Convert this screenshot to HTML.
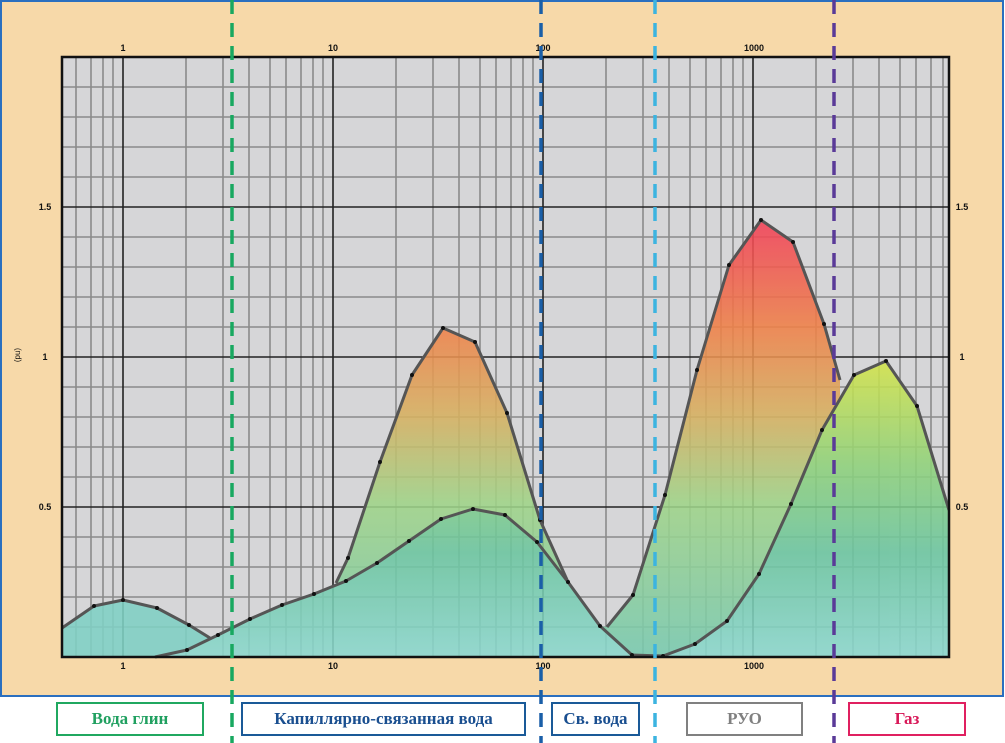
<!DOCTYPE html>
<html><head><meta charset="utf-8"><style>
html,body{margin:0;padding:0;background:#fff;}
body{width:1005px;height:743px;position:relative;overflow:hidden;font-family:"Liberation Serif",serif;}
.box{position:absolute;top:702px;border:2px solid;background:#fff;font-weight:bold;font-size:17px;display:flex;align-items:center;justify-content:center;box-sizing:border-box;height:34px;}
</style></head><body>
<svg width="1005" height="743" style="position:absolute;left:0;top:0" font-family="Liberation Sans, sans-serif">
<defs>
<linearGradient id="rg" gradientUnits="userSpaceOnUse" x1="0" y1="215" x2="0" y2="657">
<stop offset="0" stop-color="#f23c58"/><stop offset="0.25" stop-color="#f08048"/><stop offset="0.45" stop-color="#d8b060"/><stop offset="0.65" stop-color="#a0d488"/><stop offset="1" stop-color="#78cab0"/>
</linearGradient>
<linearGradient id="gg" gradientUnits="userSpaceOnUse" x1="0" y1="360" x2="0" y2="657">
<stop offset="0" stop-color="#d4e448"/><stop offset="0.35" stop-color="#90d27a"/><stop offset="0.65" stop-color="#6cc6a0"/><stop offset="1" stop-color="#8cd8ce"/>
</linearGradient>
</defs>
<rect x="1" y="1" width="1002" height="695" fill="#f7d9a9" stroke="#2a6fbf" stroke-width="2"/>
<rect x="62" y="57" width="887" height="600" fill="#d6d6d8"/>
<g stroke="#8a8a8a" stroke-width="1.6">
<path d="M76 57V657M91 57V657M103 57V657M113 57V657M186 57V657M223 57V657M249 57V657M270 57V657M286 57V657M301 57V657M313 57V657M323 57V657M396 57V657M433 57V657M459 57V657M480 57V657M496 57V657M511 57V657M523 57V657M533 57V657M606 57V657M643 57V657M669 57V657M690 57V657M706 57V657M721 57V657M733 57V657M743 57V657M816 57V657M853 57V657M879 57V657M900 57V657M916 57V657M931 57V657M943 57V657"/>
<path d="M62 87H949M62 117H949M62 147H949M62 177H949M62 237H949M62 267H949M62 297H949M62 327H949M62 387H949M62 417H949M62 447H949M62 477H949M62 537H949M62 567H949M62 597H949M62 627H949"/>
</g>
<g stroke="#222" stroke-width="1.6">
<path d="M123 57V657M333 57V657M543 57V657M753 57V657M62 207H949M62 357H949M62 507H949"/>
</g>
<g opacity="0.88">
<polygon fill="url(#rg)" points="336,583 348,558 380,462 412,375 443,328 475,342 507,413 540,520 568,582 600,626 607,627 633,595 665,495 697,370 729,265 761,220 793,242 824,324 840,380 840,657 336,657"/>
<polygon fill="#80d0c4" points="62,628 94,606 123,600 157,608 189,625 210,638 218,635 218,657 62,657"/>
<polygon fill="url(#gg)" points="155,657 187,650 218,635 250,619 282,605 314,594 346,581 377,563 409,541 441,519 473,509 505,515 537,542 568,582 600,626 632,655 663,656 695,644 727,621 759,574 791,504 822,430 854,375 886,361 917,406 949,510 949,657"/>
</g>
<g fill="none" stroke="#555" stroke-width="3" stroke-linejoin="round">
<polyline points="62,628 94,606 123,600 157,608 189,625 210,638"/>
<polyline points="336,583 348,558 380,462 412,375 443,328 475,342 507,413 540,520 568,582"/>
<polyline points="607,627 633,595 665,495 697,370 729,265 761,220 793,242 824,324 840,380"/>
<polyline points="155,657 187,650 218,635 250,619 282,605 314,594 346,581 377,563 409,541 441,519 473,509 505,515 537,542 568,582 600,626 632,655 663,656 695,644 727,621 759,574 791,504 822,430 854,375 886,361 917,406 949,510"/>
</g>
<g fill="#111">
<circle cx="94" cy="606" r="2"/><circle cx="123" cy="600" r="2"/><circle cx="157" cy="608" r="2"/><circle cx="189" cy="625" r="2"/>
<circle cx="348" cy="558" r="2"/><circle cx="380" cy="462" r="2"/><circle cx="412" cy="375" r="2"/><circle cx="443" cy="328" r="2"/><circle cx="475" cy="342" r="2"/><circle cx="507" cy="413" r="2"/><circle cx="540" cy="520" r="2"/>
<circle cx="633" cy="595" r="2"/><circle cx="665" cy="495" r="2"/><circle cx="697" cy="370" r="2"/><circle cx="729" cy="265" r="2"/><circle cx="761" cy="220" r="2"/><circle cx="793" cy="242" r="2"/><circle cx="824" cy="324" r="2"/>
<circle cx="187" cy="650" r="2"/><circle cx="218" cy="635" r="2"/><circle cx="250" cy="619" r="2"/><circle cx="282" cy="605" r="2"/><circle cx="314" cy="594" r="2"/><circle cx="346" cy="581" r="2"/><circle cx="377" cy="563" r="2"/><circle cx="409" cy="541" r="2"/><circle cx="441" cy="519" r="2"/><circle cx="473" cy="509" r="2"/><circle cx="505" cy="515" r="2"/><circle cx="537" cy="542" r="2"/><circle cx="568" cy="582" r="2"/><circle cx="600" cy="626" r="2"/><circle cx="632" cy="655" r="2"/><circle cx="663" cy="656" r="2"/><circle cx="695" cy="644" r="2"/><circle cx="727" cy="621" r="2"/><circle cx="759" cy="574" r="2"/><circle cx="791" cy="504" r="2"/><circle cx="822" cy="430" r="2"/><circle cx="854" cy="375" r="2"/><circle cx="886" cy="361" r="2"/><circle cx="917" cy="406" r="2"/>
</g>
<rect x="62" y="57" width="887" height="600" fill="none" stroke="#111" stroke-width="2.5"/>
<g font-size="9" font-weight="bold" fill="#111" text-anchor="middle">
<text x="123" y="51">1</text><text x="333" y="51">10</text><text x="543" y="51">100</text><text x="754" y="51">1000</text>
<text x="123" y="669">1</text><text x="333" y="669">10</text><text x="543" y="669">100</text><text x="754" y="669">1000</text>
<text x="45" y="210">1.5</text><text x="45" y="360">1</text><text x="45" y="510">0.5</text>
<text x="962" y="210">1.5</text><text x="962" y="360">1</text><text x="962" y="510">0.5</text>
<text x="20" y="355" font-weight="normal" font-size="8" transform="rotate(-90 20 355)">(pu)</text>
</g>
<g stroke-width="3.5" stroke-dasharray="14,9" fill="none">
<line x1="232" y1="0" x2="232" y2="743" stroke="#18a860"/>
<line x1="541" y1="0" x2="541" y2="743" stroke="#1a5fa8"/>
<line x1="655" y1="0" x2="655" y2="743" stroke="#3cb4e0"/>
<line x1="834" y1="0" x2="834" y2="743" stroke="#5a3a98"/>
</g>
</svg>
<div class="box" style="left:56px;width:148px;border-color:#20a860;color:#20a060;">Вода глин</div>
<div class="box" style="left:241px;width:285px;border-color:#1a5a98;color:#1a4f90;">Капиллярно-связанная вода</div>
<div class="box" style="left:551px;width:89px;border-color:#1a5a98;color:#1a4f90;">Св. вода</div>
<div class="box" style="left:686px;width:117px;border-color:#808080;color:#808080;">РУО</div>
<div class="box" style="left:848px;width:118px;border-color:#e02060;color:#d81858;">Газ</div>
</body></html>
